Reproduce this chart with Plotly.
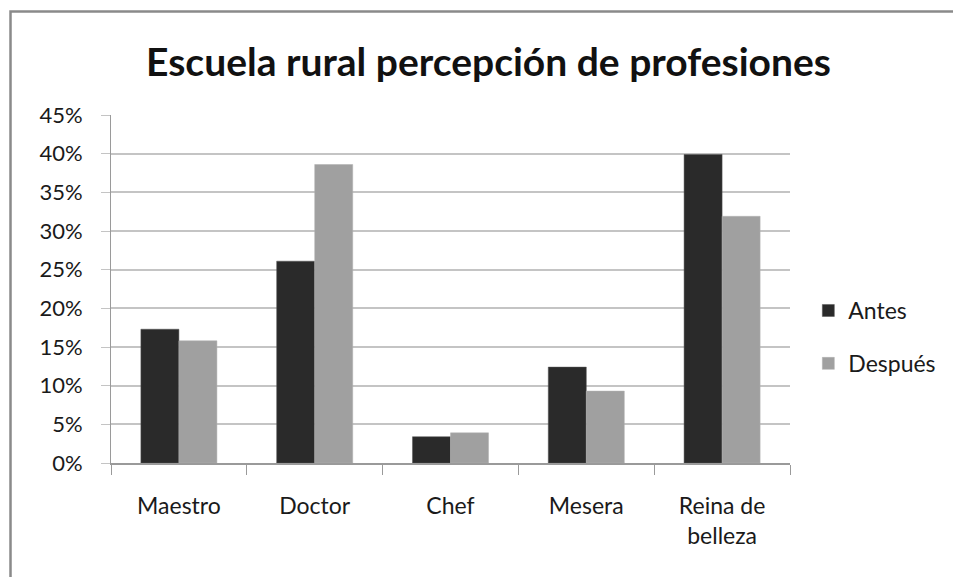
import plotly.graph_objects as go

# Data
categories = ["Maestro", "Doctor", "Chef", "Mesera", "Reina de<br>belleza"]
antes = [0.173, 0.261, 0.034, 0.124, 0.399]
despues = [0.158, 0.386, 0.039, 0.093, 0.319]
y_ticks = [0, 0.05, 0.10, 0.15, 0.20, 0.25, 0.30, 0.35, 0.40, 0.45]

FONT = "Lato, 'Open Sans', sans-serif"

fig = go.Figure()
fig.add_trace(go.Bar(
    name="Antes", x=categories, y=antes,
    marker=dict(color="#2a2a2a", line=dict(color="#555555", width=0.5)),
    legendgroup="a",
))
fig.add_trace(go.Bar(
    name="Después", x=categories, y=despues,
    marker=dict(color="#a0a0a0", line=dict(color="#b0b0b0", width=0.5)),
    legendgroup="d",
))

# note: the page body adds an 8px offset, margins are set with that in mind
fig.update_layout(
    width=961, height=577,
    paper_bgcolor="white", plot_bgcolor="white",
    barmode="group", bargap=0.44, bargroupgap=0,
    margin=dict(l=103, r=179, t=107, b=122, autoexpand=False),
    title=dict(
        text="<b>Escuela rural percepción de profesiones</b>",
        x=0.5, xanchor="center", y=0.905, yanchor="middle",
        font=dict(family=FONT, size=39, color="#111111"),
    ),
    font=dict(family=FONT, size=22, color="#1a1a1a"),
    legend=dict(
        x=1.027, xanchor="left", y=0.362, yanchor="middle",
        font=dict(size=23, color="#1a1a1a"),
        tracegroupgap=20, traceorder="grouped",
        itemwidth=30,
    ),
    showlegend=True,
)

fig.update_yaxes(
    range=[0, 0.45], tickvals=y_ticks, tickformat=".0%",
    showgrid=True, gridcolor="#c4c4c4", gridwidth=1.5,
    showline=True, linecolor="#9a9a9a", linewidth=1,
    ticks="outside", ticklen=9, tickcolor="#c4c4c4",
    zeroline=False, ticklabelstandoff=14,
    tickfont=dict(size=22),
)
fig.update_xaxes(
    showline=True, linecolor="#9a9a9a", linewidth=1.5,
    ticks="outside", ticklen=10, tickcolor="#9a9a9a",
    tickson="boundaries", showgrid=False,
    ticklabelstandoff=22, tickfont=dict(size=23),
)

# outer chart frame
fig.add_shape(
    type="rect", xref="paper", yref="paper",
    x0=-0.148, x1=1.5, y0=-0.5, y1=1.2974,
    line=dict(color="#8a8a8a", width=2.5), fillcolor="rgba(0,0,0,0)",
    layer="below",
)

fig.write_html("out.html")
